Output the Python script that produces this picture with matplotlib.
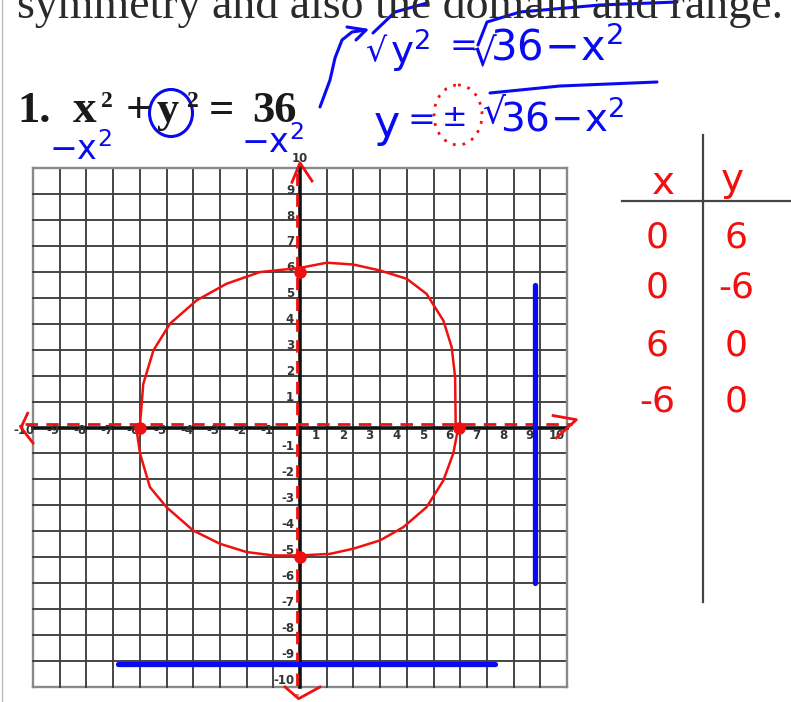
import matplotlib
matplotlib.use('Agg')
import matplotlib.pyplot as plt
import matplotlib.transforms as mtransforms
from matplotlib.patches import Ellipse

W, H = 791, 702

# worksheet grid
ticks = list(range(-10, 11))

# hand-drawn curve for x^2 + y^2 = 36 (clockwise from the top)
circle_x = [0, 1, 2, 3, 4, 4.74, 5.37, 5.68, 5.81, 5.83, 5.93,
            5.74, 5.37, 4.74, 3.87, 3.0, 2.0, 1.12, 0,
            -1, -2, -3, -4, -5, -5.62, -5.99, -6.12,
            -5.99, -5.87, -5.49, -4.87, -3.87, -2.75, -1.5, 0]
circle_y = [6.15, 6.35, 6.28, 6.05, 5.73, 5.15, 4.12, 3.1, 1.94, 0.14, 0,
            -1.0, -2.04, -3.07, -3.84, -4.35, -4.67, -4.87, -4.93,
            -4.93, -4.8, -4.48, -3.97, -3.07, -2.3, -1.01, -0.1,
            0.14, 1.68, 2.97, 4.0, 4.9, 5.54, 5.99, 6.15]

# intercepts marked on the graph
dot_x = [0, 5.95, 0, -6]
dot_y = [6, 0, -5, 0]

# domain / range bars
domain_x = [-6.8, 7.3]
domain_y = -9.1
range_x = 8.8
range_y = [-6.0, 5.5]

# x | y table
table_x = ['0', '0', '6', '-6']
table_y = ['6', '-6', '0', '0']

red = '#f01010'
blue = '#0a0af0'

fig = plt.figure(figsize=(W / 100, H / 100), dpi=100)
fig.patch.set_facecolor('white')
# pixel coordinates measured from the top-left corner
px = mtransforms.Affine2D().scale(1 / W, -1 / H).translate(0, 1) + fig.transFigure

ax = fig.add_axes([33 / W, 1 - 687 / H, 534 / W, 519 / H])
ax.set_xlim(-10, 10)
ax.set_ylim(-10, 10)
ax.axis('off')

# grid
for k in ticks:
    edge = abs(k) == 10
    col = '#8a8a8a' if edge else '#3e3e3e'
    lw = 1.7 if edge else 1.35
    ax.plot([k, k], [-10, 10], color=col, lw=lw, clip_on=False, zorder=1)
    ax.plot([-10, 10], [k, k], color=col, lw=lw, clip_on=False, zorder=1)
ax.plot([-10, 10], [0, 0], color='#111111', lw=2.6, zorder=2, clip_on=False)
ax.plot([0, 0], [-10, 10], color='#111111', lw=2.6, zorder=2, clip_on=False)

# tick numbers
lab = dict(fontsize=8.5, color='#333333', clip_on=False, zorder=3,
           family='DejaVu Sans', fontweight='bold')
for k in ticks:
    if k == 0:
        continue
    if k > 0:
        ax.text(k - 0.4, -0.32, str(k), ha='center', va='center', **lab)
    elif k == -10:
        ax.text(-10.35, -0.1, str(k), ha='center', va='center', **lab)
    else:
        ax.text(k - 0.25, -0.12, str(k), ha='center', va='center', **lab)
    if k == 10:
        ax.text(0, 10.35, str(k), ha='center', va='center', **lab)
    elif k > 0:
        ax.text(-0.22, k + 0.15, str(k), ha='right', va='center', **lab)
    else:
        ax.text(-0.22, k + 0.25, str(k), ha='right', va='center', **lab)

# red dashed axes with arrow heads
ax.plot([-10.3, 10.2], [0.12, 0.12], color=red, lw=2, ls=(0, (4.5, 3)),
        clip_on=False, zorder=4)
ax.plot([-0.12, -0.12], [9.8, -10.3], color=red, lw=2, ls=(0, (4.5, 3)),
        clip_on=False, zorder=4)
ax.plot([-10.2, -10.45, -10.0], [0.55, 0.0, -0.6], color=red, lw=2, clip_on=False, zorder=4)
ax.plot([9.48, 10.35, 9.6], [0.46, 0.3, -0.4], color=red, lw=2, clip_on=False, zorder=4)
ax.plot([-0.3, 0.0, 0.45], [9.45, 10.2, 9.5], color=red, lw=2, clip_on=False, zorder=4)
ax.plot([-0.56, -0.05, 0.75], [-10.0, -10.45, -10.0], color=red, lw=2, clip_on=False, zorder=4)

# circle and intercepts
ax.plot(circle_x, circle_y, color=red, lw=1.8, zorder=5, clip_on=False)
ax.plot(dot_x, dot_y, 'o', color=red, ms=8, zorder=6, clip_on=False)

# domain and range
ax.plot(domain_x, [domain_y, domain_y], color=blue, lw=3.8, solid_capstyle='round', zorder=6)
ax.plot([range_x, range_x], range_y, color=blue, lw=3.8, solid_capstyle='round', zorder=6)

# printed worksheet text
fig.add_artist(plt.Line2D([2, 2], [0, H], transform=px, color='#bbbbbb', lw=1))
fig.text(17, 18, 'symmetry and also the domain and range.', transform=px,
         fontsize=33, family='Liberation Serif', color='#2a2a2a', va='baseline')
printed = dict(transform=px, family='Liberation Serif', fontweight='bold',
               color='#1a1a1a', va='baseline', ha='left')
eq_parts = [('1.', 17, 122, 32), ('x', 73, 122, 34), ('2', 101, 107, 17),
            ('+', 126, 122, 32), ('y', 157, 122, 32), ('2', 187, 107, 17),
            ('=', 209, 122, 32), ('36', 252, 122, 32)]
for s, x, y, fs in eq_parts:
    fig.text(x, y, s, fontsize=fs, **printed)

# blue handwritten work
hand = dict(transform=px, color=blue, ha='center', va='center', family='DejaVu Sans')
blue_notes = [
    (r'$\mathregular{-x^2}$', 80, 150, 24),
    (r'$\mathregular{-x^2}$', 272, 143, 24),
    ('√', 377, 52, 24),
    (r'$\mathregular{y^2}$', 410, 50, 28),
    ('=', 463, 46, 24),
    ('√', 484, 55, 28),
    (r'$\mathregular{36\!-\!x^2}$', 557, 48, 30),
    ('y', 387, 125, 32),
    ('=', 421, 120, 24),
    ('±', 455, 117, 22),
    ('√', 494, 113, 26),
    (r'$\mathregular{36\!-\!x^2}$', 562, 120, 28),
]
for s, x, y, fs in blue_notes:
    fig.text(x, y, s, fontsize=fs, **hand)

strokes = [
    ([320, 330, 335, 342, 352, 366], [107, 80, 58, 40, 32, 30]),
    ([347, 366, 356], [27, 30, 40]),
    ([373, 395, 427], [33, 12, 3]),
    ([478, 487, 520, 600, 677], [45, 22, 12, 5, 2]),
    ([490, 560, 657], [93, 86, 82]),
]
for xs, ys in strokes:
    fig.add_artist(plt.Line2D(xs, ys, transform=px, color=blue, lw=2.2,
                              solid_capstyle='round', solid_joinstyle='round'))

fig.add_artist(Ellipse((171, 113), 43, 47, transform=px, fill=False,
                       edgecolor=blue, lw=2.2))
fig.add_artist(Ellipse((458, 115), 48, 60, transform=px, fill=False,
                       edgecolor=red, lw=2, ls=(0, (1, 2.5))))

# x | y table
fig.add_artist(plt.Line2D([703, 703], [135, 602], transform=px, color='#444444', lw=1.6))
fig.add_artist(plt.Line2D([622, 791], [201, 201], transform=px, color='#444444', lw=1.6))
tab = dict(transform=px, color=red, ha='center', va='center', family='DejaVu Sans')
fig.text(663, 183, 'x', fontsize=28, **tab)
fig.text(732, 180, 'y', fontsize=28, **tab)
row_y = [237, 288, 345, 402]
for xs, ys, yy in zip(table_x, table_y, row_y):
    fig.text(657, yy, xs, fontsize=26, **tab)
    fig.text(736, yy, ys, fontsize=26, **tab)

fig.savefig('out.png', dpi=100, facecolor='white')
